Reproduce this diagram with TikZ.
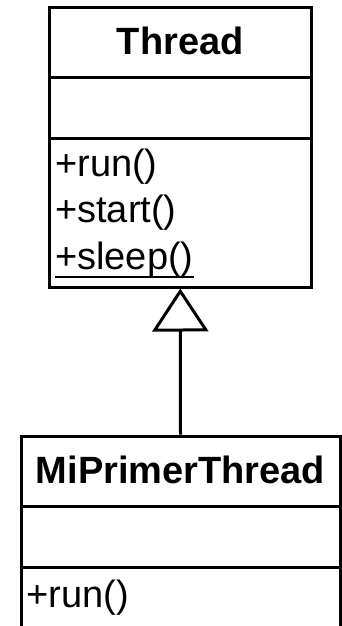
\documentclass[tikz,border=0pt]{standalone}
\usepackage{fontspec}
\setmainfont{Liberation Sans}
\usetikzlibrary{arrows.meta}
\tikzset{
  comp/.style={draw, line width=3pt, inner sep=0pt},
  cname/.style={font=\fontsize{38}{46}\selectfont\bfseries, text height=27pt, text depth=2pt},
  member/.style={anchor=base west, inner sep=0pt, font=\fontsize{38}{46}\selectfont},
}
\begin{document}
\begin{tikzpicture}[x=1pt,y=-1pt]
  \useasboundingbox (0,0) rectangle (342,626);
  % Thread
  \node[comp, cname, minimum width=261.5pt, minimum height=70pt] (tname) at (180.3, 42.2) {Thread};
  \node[comp, minimum width=261.5pt, minimum height=61pt] (tattr) at (180.3, 107.5) {};
  \node[comp, minimum width=261.5pt, minimum height=149pt] (tops) at (180.3, 212.5) {};
  \node[member] (trun) at (55, 176) {+run()};
  \node[member] (tstart) at (55, 222.5) {+start()};
  \node[member] (tsleep) at (55, 269) {+sleep()};
  \draw[line width=2.5pt] (tsleep.south west) -- (tsleep.south east);
  % MiPrimerThread
  \node[comp, cname, minimum width=319pt, minimum height=70pt] (mname) at (180.5, 471) {MiPrimerThread};
  \node[comp, minimum width=319pt, minimum height=61pt] (mattr) at (180.5, 536.5) {};
  \node[comp, minimum width=319pt, minimum height=62pt] (mops) at (180.5, 598) {};
  \node[member] (mrun) at (26.5, 607) {+run()};
  % herencia
  \draw[line width=3pt, -{Triangle[open, length=43pt, width=56pt]}] (mname.north) -- (tops.south);
\end{tikzpicture}
\end{document}
